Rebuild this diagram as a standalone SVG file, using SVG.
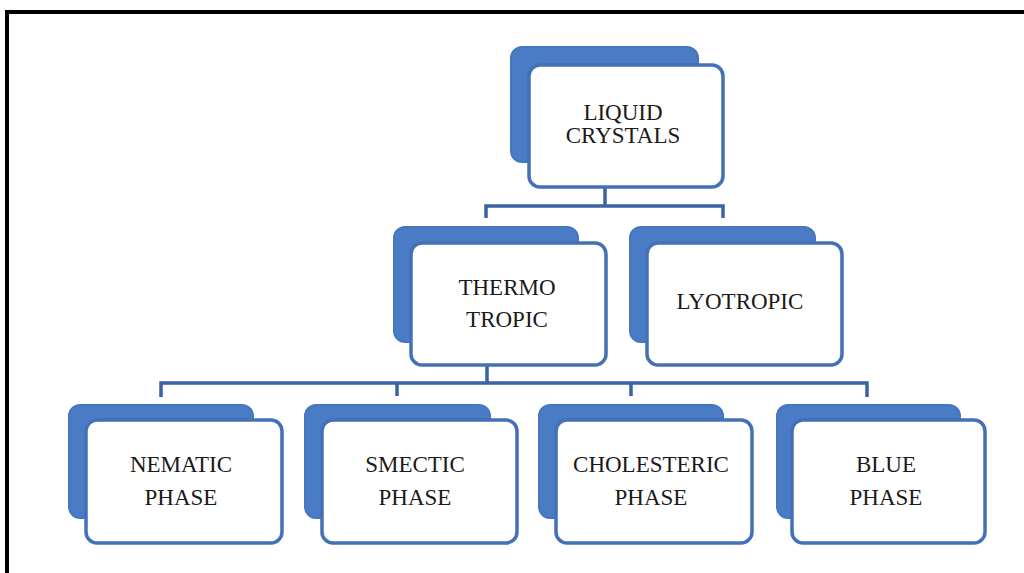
<svg xmlns="http://www.w3.org/2000/svg" width="1024" height="573" viewBox="0 0 1024 573">
<style>
.back{fill:#4a7cc6;stroke:#4577c0;stroke-width:2}
.front{fill:#ffffff;stroke:#4470b8;stroke-width:3.5}
.lbl{font-family:"Liberation Serif","Times New Roman",serif;font-size:23px;fill:#1a1a1a;text-anchor:middle}
.conn{fill:none;stroke:#3a62a4;stroke-width:3.5}
</style>
<rect x="0" y="0" width="1024" height="573" fill="#ffffff"/>
<path d="M7,573 V12 H1024" fill="none" stroke="#000000" stroke-width="4"/>
<g id="connectors">
<path class="conn" d="M605,187 V206 M486,218 V206 H723 V218"/>
<path class="conn" d="M487,365 V383 M161,397 V383 H867 V397 M397,383 V396 M631,383 V396"/>
</g>
<g id="liquid-crystals">
<rect class="back" x="511" y="47" width="187" height="115" rx="11"/>
<rect class="front" x="529" y="65" width="194" height="122" rx="11"/>
<text class="lbl" x="623" y="120">LIQUID</text>
<text class="lbl" x="623" y="143">CRYSTALS</text>
</g>
<g id="thermotropic">
<rect class="back" x="394" y="227" width="184" height="115" rx="11"/>
<rect class="front" x="411" y="243" width="195" height="122" rx="11"/>
<text class="lbl" x="507" y="295">THERMO</text>
<text class="lbl" x="507" y="327">TROPIC</text>
</g>
<g id="lyotropic">
<rect class="back" x="630" y="227" width="185" height="115" rx="11"/>
<rect class="front" x="647" y="243" width="195" height="122" rx="11"/>
<text class="lbl" x="740" y="309">LYOTROPIC</text>
</g>
<g id="nematic">
<rect class="back" x="69" y="405" width="184" height="113" rx="11"/>
<rect class="front" x="86" y="420" width="196" height="123" rx="11"/>
<text class="lbl" x="181" y="472">NEMATIC</text>
<text class="lbl" x="181" y="505">PHASE</text>
</g>
<g id="smectic">
<rect class="back" x="305" y="405" width="185" height="113" rx="11"/>
<rect class="front" x="322" y="420" width="195" height="123" rx="11"/>
<text class="lbl" x="415" y="472">SMECTIC</text>
<text class="lbl" x="415" y="505">PHASE</text>
</g>
<g id="cholesteric">
<rect class="back" x="539" y="405" width="184" height="113" rx="11"/>
<rect class="front" x="556" y="420" width="196" height="123" rx="11"/>
<text class="lbl" x="651" y="472">CHOLESTERIC</text>
<text class="lbl" x="651" y="505">PHASE</text>
</g>
<g id="blue">
<rect class="back" x="777" y="405" width="183" height="113" rx="11"/>
<rect class="front" x="792" y="420" width="193" height="123" rx="11"/>
<text class="lbl" x="886" y="472">BLUE</text>
<text class="lbl" x="886" y="505">PHASE</text>
</g>
</svg>
